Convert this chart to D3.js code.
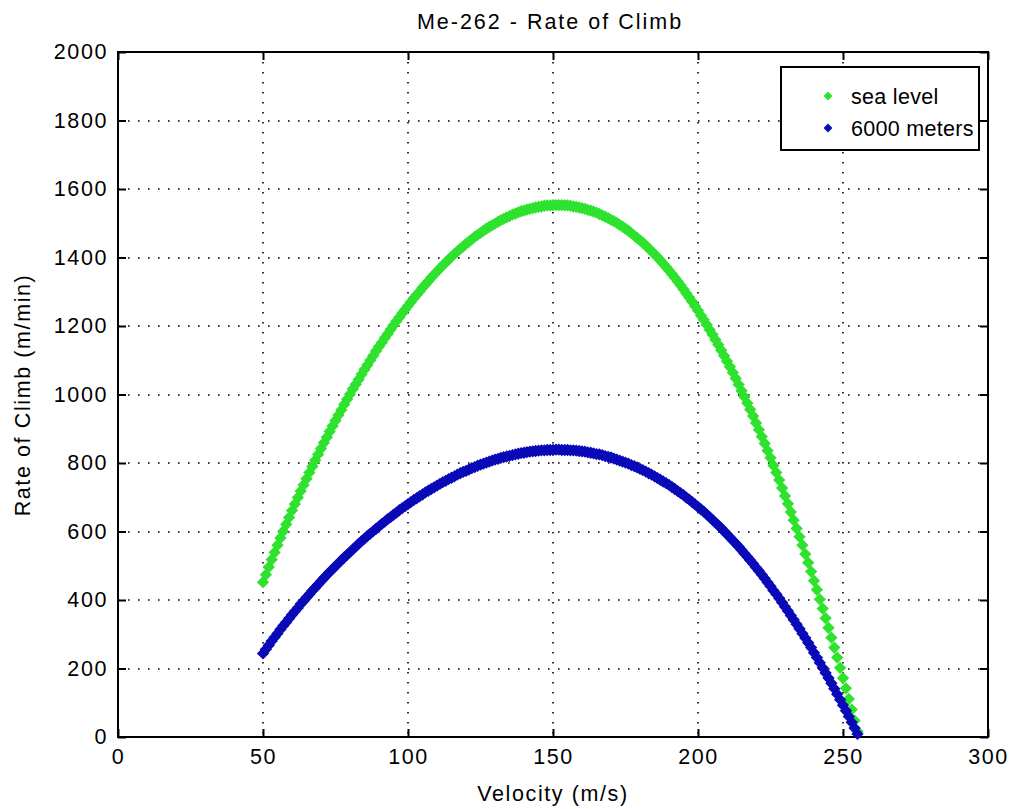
<!DOCTYPE html>
<html><head><meta charset="utf-8">
<script src="https://cdn.jsdelivr.net/npm/d3@7"></script>
<style>
body{margin:0;background:#fff}
svg{display:block}
text{font-family:"Liberation Sans",Arial,sans-serif;fill:#000}
</style>
</head><body>
<svg id="c" width="1011" height="809"></svg>
<script>
const title = "Me-262 - Rate of Climb";
const xLabel = "Velocity (m/s)";
const yLabel = "Rate of Climb (m/min)";
const xTicks = [0, 50, 100, 150, 200, 250, 300];
const yTicks = [0, 200, 400, 600, 800, 1000, 1200, 1400, 1600, 1800, 2000];
const seriesNames = ["sea level", "6000 meters"];
const seriesColors = ["#2ee22e", "#0a0ab8"];
// velocity samples (m/s), one marker every 1 m/s from 50 to 255
const velocity = d3.range(50, 256);
// rate of climb at sea level (m/min)
const seaLevel = [
452,474,496,518,539,560,581,601,621,641,
661,680,699,718,736,754,772,790,808,825,
842,859,875,892,908,924,940,955,971,986,
1001,1016,1030,1044,1059,1073,1086,1100,1113,1127,
1140,1152,1165,1177,1190,1202,1214,1225,1237,1248,
1259,1270,1281,1291,1301,1312,1321,1331,1341,1350,
1359,1368,1377,1385,1394,1402,1410,1418,1425,1432,
1440,1446,1453,1460,1466,1472,1478,1484,1489,1494,
1499,1504,1509,1513,1517,1521,1525,1528,1532,1535,
1537,1540,1542,1544,1546,1548,1549,1551,1552,1552,
1553,1553,1553,1553,1552,1552,1551,1549,1548,1546,
1544,1542,1539,1537,1534,1531,1527,1523,1519,1515,
1510,1506,1501,1495,1490,1484,1478,1471,1464,1457,
1450,1443,1435,1427,1418,1410,1401,1392,1382,1372,
1362,1352,1341,1330,1319,1307,1295,1283,1271,1258,
1245,1231,1218,1204,1189,1175,1160,1145,1129,1113,
1097,1081,1064,1047,1029,1011,993,975,956,937,
917,897,877,857,836,815,793,772,750,727,
704,681,657,633,609,585,560,534,509,483,
456,430,402,375,347,319,290,261,232,202,
172,142,111,80,48,16
];
// rate of climb at 6000 meters (m/min)
const alt6000 = [
244,256,268,280,291,302,314,325,335,346,
357,367,377,388,397,407,417,427,436,445,
455,464,473,482,490,499,507,516,524,532,
540,548,556,564,572,579,587,594,601,608,
615,622,629,636,642,649,655,662,668,674,
680,686,692,697,703,708,714,719,724,729,
734,739,744,748,753,757,761,766,770,774,
777,781,785,788,792,795,798,801,804,807,
810,812,815,817,819,821,823,825,827,829,
830,832,833,834,835,836,837,837,838,838,
838,839,839,838,838,838,837,837,836,835,
834,833,831,830,828,826,825,823,820,818,
816,813,810,807,804,801,798,794,791,787,
783,779,775,770,766,761,756,751,746,741,
736,730,724,718,712,706,699,693,686,679,
672,665,658,650,642,634,626,618,610,601,
592,583,574,565,556,546,536,526,516,506,
495,485,474,463,451,440,428,417,405,393,
380,368,355,342,329,316,302,289,275,261,
246,232,217,202,187,172,157,141,125,109,
93,77,60,43,26,9
];
const series = [seaLevel, alt6000];

const svg = d3.select("#c");
svg.append("rect").attr("width",1011).attr("height",809).attr("fill","#fff");

const L = 118, R = 988, T = 52, B = 737;
const FS = 21.5, LS = "1.6px";
const x = d3.scaleLinear().domain([0, 300]).range([L, R]);
const y = d3.scaleLinear().domain([0, 2000]).range([B, T]);
const fmt = d3.format("d");

// grid
const grid = svg.append("g").attr("stroke","#000").attr("stroke-width",1.6)
  .attr("stroke-dasharray","1.6 8.4").attr("fill","none");
grid.selectAll("line.v").data(xTicks.slice(1,-1)).join("line")
  .attr("x1", d=>Math.round(x(d))).attr("x2", d=>Math.round(x(d)))
  .attr("y1", T).attr("y2", B);
grid.selectAll("line.h").data(yTicks.slice(1,-1)).join("line")
  .attr("y1", d=>Math.round(y(d))).attr("y2", d=>Math.round(y(d)))
  .attr("x1", L).attr("x2", R);

// axes
function style(g){
  g.select(".domain").remove();
  g.selectAll(".tick line").attr("stroke","#000").attr("stroke-width",2);
  g.selectAll(".tick text").attr("font-size",FS).attr("letter-spacing",LS)
    .attr("font-family",'"Liberation Sans",Arial,sans-serif').attr("fill","#000");
}
svg.append("g").attr("transform",`translate(0,${B})`)
  .call(d3.axisBottom(x).tickValues(xTicks).tickFormat(fmt).tickSizeInner(-8).tickSizeOuter(0).tickPadding(12))
  .call(style);
svg.append("g").attr("transform",`translate(0,${T})`)
  .call(d3.axisTop(x).tickValues(xTicks).tickSizeInner(-8).tickSizeOuter(0).tickFormat(""))
  .call(style);
svg.append("g").attr("transform",`translate(${L},0)`)
  .call(d3.axisLeft(y).tickValues(yTicks).tickFormat(fmt).tickSizeInner(-8).tickSizeOuter(0).tickPadding(10))
  .call(style);
svg.append("g").attr("transform",`translate(${R},0)`)
  .call(d3.axisRight(y).tickValues(yTicks).tickSizeInner(-8).tickSizeOuter(0).tickFormat(""))
  .call(style);

// box
svg.append("rect").attr("x",L).attr("y",T).attr("width",R-L).attr("height",B-T)
  .attr("fill","none").attr("stroke","#000").attr("stroke-width",2);

// markers
const diamond = d3.symbol(d3.symbolSquare, 52)();
series.forEach((vals, si) => {
  svg.append("g").selectAll("path").data(vals).join("path")
    .attr("d", diamond)
    .attr("transform", (d,i)=>`translate(${x(velocity[i])},${y(d)}) rotate(45)`)
    .attr("fill", seriesColors[si]).attr("stroke", seriesColors[si]).attr("stroke-width", 1.5);
});

// legend
const lg = svg.append("g");
lg.append("rect").attr("x",781).attr("y",67).attr("width",198).attr("height",83)
  .attr("fill","#fff").attr("stroke","#000").attr("stroke-width",2);
seriesNames.forEach((name, i) => {
  const cy = 96 + i*32;
  lg.append("path").attr("d", d3.symbol(d3.symbolSquare, 26)()).attr("transform",`translate(828,${cy}) rotate(45)`)
    .attr("fill",seriesColors[i]).attr("stroke",seriesColors[i]).attr("stroke-width",1.2);
  lg.append("text").attr("x",851).attr("y",cy).attr("dy","0.36em")
    .attr("font-size",FS).attr("letter-spacing","0.3px").text(name);
});

// titles
svg.append("text").attr("x",550).attr("y",29).attr("text-anchor","middle")
  .attr("font-size",FS).attr("letter-spacing","2px").text(title);
svg.append("text").attr("x",553).attr("y",801).attr("text-anchor","middle")
  .attr("font-size",FS).attr("letter-spacing",LS).text(xLabel);
svg.append("text").attr("transform",`translate(30,395) rotate(-90)`).attr("text-anchor","middle")
  .attr("font-size",FS).attr("letter-spacing",LS).text(yLabel);
</script>
</body></html>
